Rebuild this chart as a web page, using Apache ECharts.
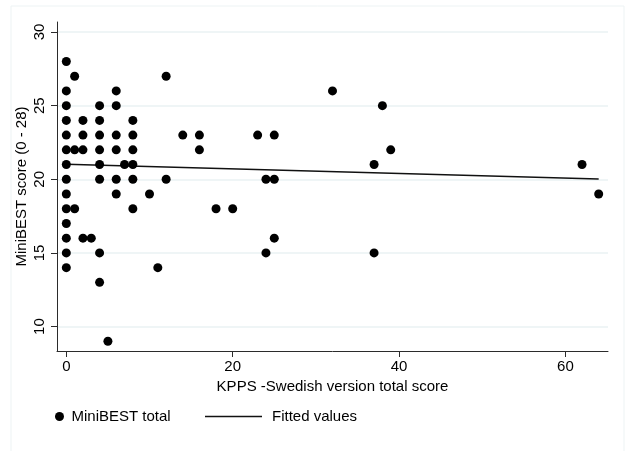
<!DOCTYPE html>
<html>
<head>
<meta charset="utf-8">
<script src="https://cdn.jsdelivr.net/npm/echarts@6/dist/echarts.min.js"></script>
<style>
  html, body { margin: 0; padding: 0; background: #fff; }
  #chart { width: 626px; height: 451px; }
</style>
</head>
<body>
<div id="chart"></div>
<script>
// KPPS total score vs MiniBEST score
var kpps = [
  0,
  1, 12,
  0, 6, 32,
  0, 4, 6, 38,
  0, 2, 4, 8,
  0, 2, 4, 6, 8, 14, 16, 23, 25,
  0, 1, 2, 4, 6, 8, 16, 39,
  0, 4, 7, 8, 37, 62,
  0, 4, 6, 8, 12, 24, 25,
  0, 6, 10, 64,
  0, 1, 8, 18, 20,
  0,
  0, 2, 3, 25,
  0, 4, 24, 37,
  0, 11,
  4,
  5
];
var miniBest = [
  28,
  27, 27,
  26, 26, 26,
  25, 25, 25, 25,
  24, 24, 24, 24,
  23, 23, 23, 23, 23, 23, 23, 23, 23,
  22, 22, 22, 22, 22, 22, 22, 22,
  21, 21, 21, 21, 21, 21,
  20, 20, 20, 20, 20, 20, 20,
  19, 19, 19, 19,
  18, 18, 18, 18, 18,
  17,
  16, 16, 16, 16,
  15, 15, 15, 15,
  14, 14,
  13,
  9
];
// fitted line end points
var fitX = [0, 64];
var fitY = [21.02, 20.02];

var xTicks = [0, 20, 40, 60];
var yTicks = [10, 15, 20, 25, 30];

var points = [];
for (var i = 0; i < kpps.length; i++) {
  points.push([kpps[i], miniBest[i]]);
}
var fitted = [];
for (var j = 0; j < fitX.length; j++) {
  fitted.push([fitX[j], fitY[j]]);
}

var font = 'Liberation Sans, Arial, sans-serif';
var myChart = echarts.init(document.getElementById('chart'));

var option = {
  backgroundColor: '#fff',
  animation: false,
  graphic: [{
    type: 'rect',
    shape: { x: 11, y: 6, width: 613, height: 470 },
    style: { fill: 'none', stroke: '#edf3f4', lineWidth: 1 },
    silent: true,
    z: -1
  }],
  grid: {
    left: 57,
    right: 18,
    top: 22,
    bottom: 100
  },
  legend: [
    {
      data: ['MiniBEST total'],
      left: 50,
      top: 404,
      icon: 'circle',
      itemWidth: 14,
      itemHeight: 9,
      textStyle: { color: '#000', fontSize: 15, fontFamily: font }
    },
    {
      data: [{ name: 'Fitted values', icon: 'rect' }],
      left: 200,
      top: 404,
      itemWidth: 57,
      itemHeight: 1.3,
      itemStyle: { color: '#111', borderWidth: 0 },
      textStyle: { color: '#000', fontSize: 15, fontFamily: font, padding: [0, 0, 0, 5] }
    }
  ],
  xAxis: {
    type: 'value',
    min: -1.12,
    max: 65.12,
    name: 'KPPS -Swedish version total score',
    nameLocation: 'middle',
    nameGap: 24,
    nameTextStyle: { color: '#000', fontSize: 15, fontFamily: font },
    axisLine: { show: true, onZero: false, lineStyle: { color: '#2b2b2b', width: 1 } },
    axisTick: { show: true, length: 6, customValues: xTicks, lineStyle: { color: '#2b2b2b' } },
    axisLabel: { customValues: xTicks, margin: 8, color: '#000', fontSize: 15, fontFamily: font },
    splitLine: { show: false }
  },
  yAxis: {
    type: 'value',
    min: 8.34,
    max: 30.68,
    name: 'MiniBEST score (0 - 28)',
    nameLocation: 'middle',
    nameGap: 28,
    nameMoveOverlap: false,
    nameTextStyle: { color: '#000', fontSize: 15, fontFamily: font },
    axisLine: { show: true, onZero: false, lineStyle: { color: '#2b2b2b', width: 1 } },
    axisTick: { show: true, length: 6, customValues: yTicks, lineStyle: { color: '#2b2b2b' } },
    axisLabel: { customValues: yTicks, rotate: 90, margin: 10, color: '#000', fontSize: 15, fontFamily: font },
    splitLine: { show: true, lineStyle: { color: '#eaf2f3', width: 1.5 } }
  },
  series: [
    {
      name: 'MiniBEST total',
      type: 'scatter',
      data: points,
      symbol: 'circle',
      symbolSize: 9,
      itemStyle: { color: '#000', opacity: 1 },
      z: 3
    },
    {
      name: 'Fitted values',
      type: 'line',
      data: fitted,
      symbol: 'none',
      lineStyle: { color: '#111', width: 1.3 },
      itemStyle: { color: '#111' },
      z: 2
    }
  ]
};
myChart.setOption(option);
window.addEventListener('resize', function () {
  myChart.resize();
});
</script>
</body>
</html>
